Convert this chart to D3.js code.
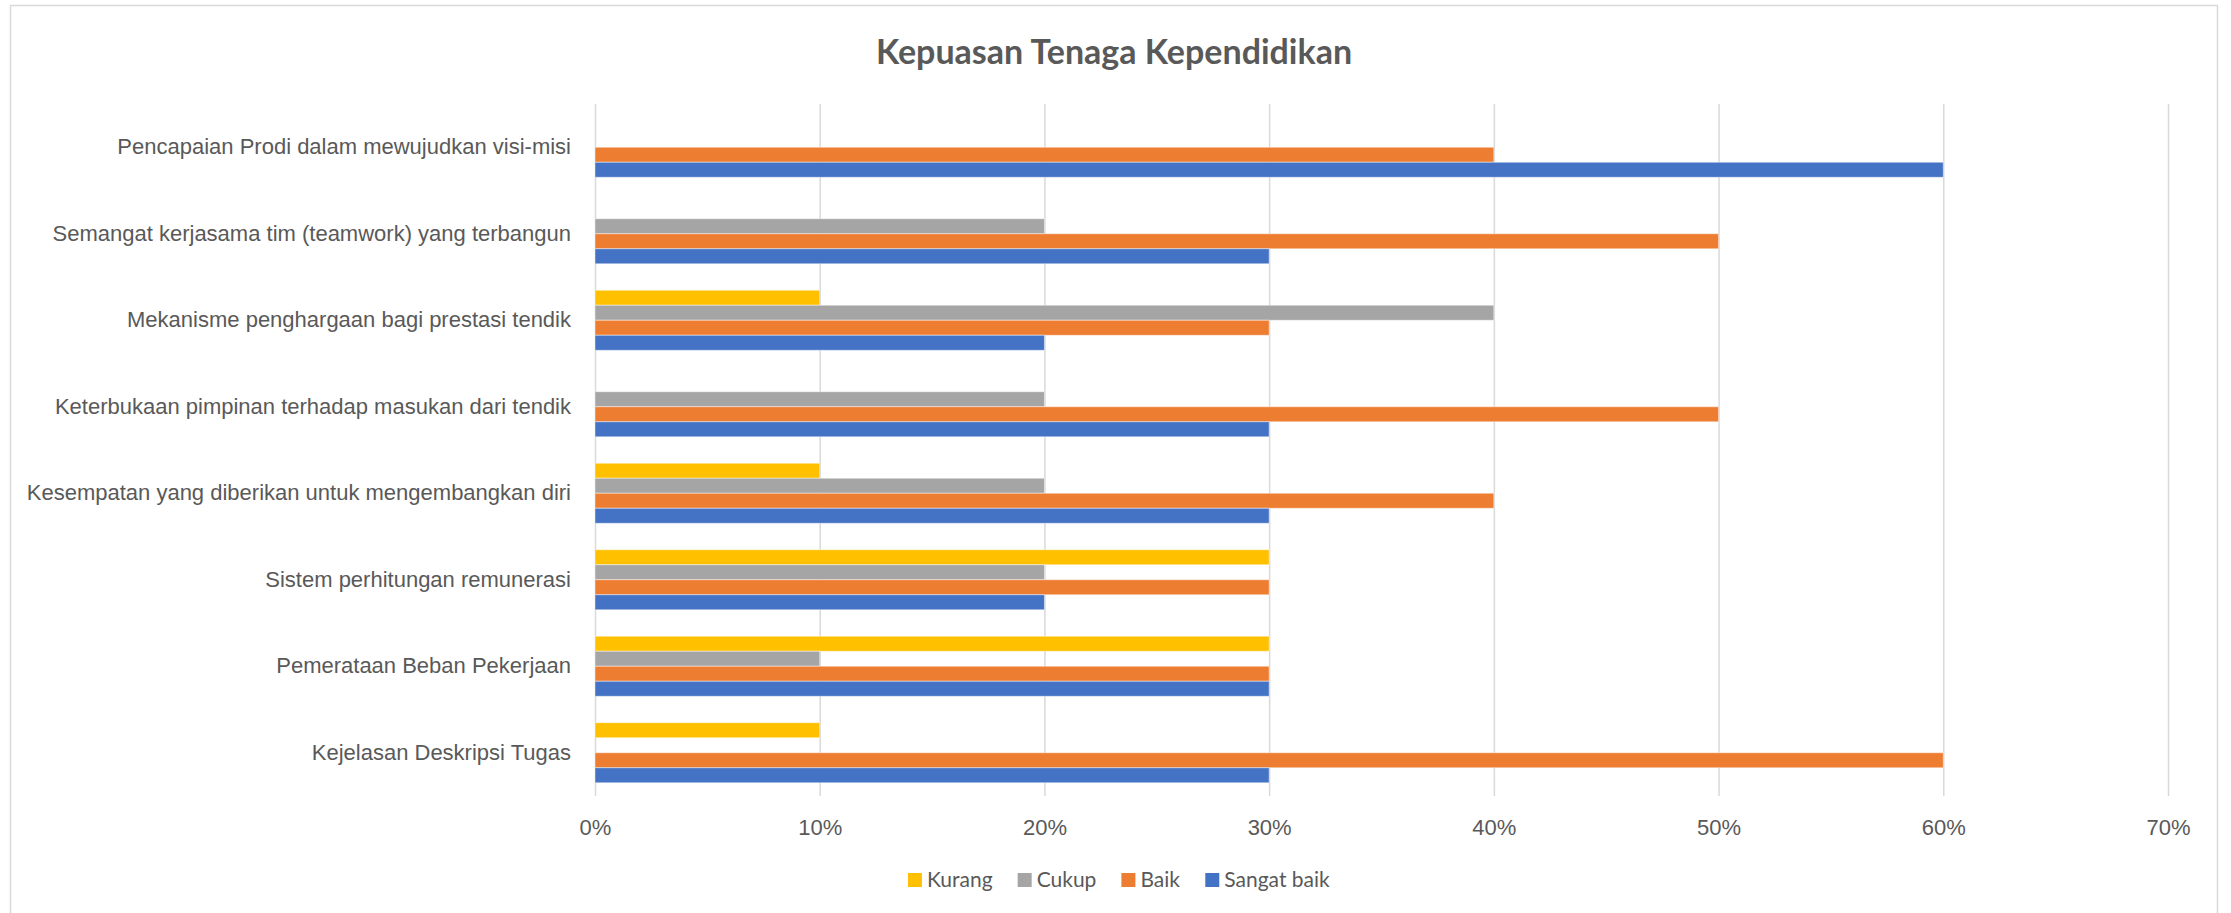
<!DOCTYPE html>
<html>
<head>
<meta charset="utf-8">
<script src="https://cdn.jsdelivr.net/npm/d3@7"></script>
<style>
  body { margin: 0; background: #fff; }
  svg { display: block; font-family: Lato, "Open Sans", sans-serif; }
</style>
</head>
<body>
<div id="chart"></div>
<script>
// Categories, top to bottom as drawn
const categories = [
    "Pencapaian Prodi dalam mewujudkan visi-misi",
    "Semangat kerjasama tim (teamwork) yang terbangun",
    "Mekanisme penghargaan bagi prestasi tendik",
    "Keterbukaan pimpinan terhadap masukan dari tendik",
    "Kesempatan yang diberikan untuk mengembangkan diri",
    "Sistem perhitungan remunerasi",
    "Pemerataan Beban Pekerjaan",
    "Kejelasan Deskripsi Tugas"
];

// Series names (top to bottom inside each group)
const seriesNames = ["Kurang", "Cukup", "Baik", "Sangat baik"];
const seriesColors = ["#FFC000", "#A5A5A5", "#ED7D31", "#4472C4"];

// Values per series, same order as categories
const kurang     = [0,    0,    0.10, 0,    0.10, 0.30, 0.30, 0.10];
const cukup      = [0,    0.20, 0.40, 0.20, 0.20, 0.20, 0.10, 0];
const baik       = [0.40, 0.50, 0.30, 0.50, 0.40, 0.30, 0.30, 0.60];
const sangatBaik = [0.60, 0.30, 0.20, 0.30, 0.30, 0.20, 0.30, 0.30];

// Tick values for the x axis
const xTicks = [0, 0.1, 0.2, 0.3, 0.4, 0.5, 0.6, 0.7];

const chartTitle = "Kepuasan Tenaga Kependidikan";

// Set up dimensions
const width = 2231;
const height = 913;
const plot = { left: 595, right: 2168, top: 104, bottom: 796 };

const seriesValues = [kurang, cukup, baik, sangatBaik];

const svg = d3.select("#chart")
    .append("svg")
    .attr("width", width)
    .attr("height", height);

// Chart frame
svg.append("rect")
    .attr("x", 10.5)
    .attr("y", 5.5)
    .attr("width", 2207)
    .attr("height", 940)
    .attr("fill", "#fff")
    .attr("stroke", "#D9D9D9")
    .attr("stroke-width", 1.5);

// Scales
const xScale = d3.scaleLinear()
    .domain([0, 0.7])
    .range([plot.left, plot.right]);

const yScale = d3.scaleBand()
    .domain(categories)
    .range([plot.top, plot.bottom])
    .paddingInner(0.306)
    .paddingOuter(0.153);

const ySub = d3.scaleBand()
    .domain(seriesNames)
    .range([0, yScale.bandwidth()]);

// X axis with gridlines
const xAxis = svg.append("g")
    .attr("class", "x-axis")
    .attr("transform", "translate(0," + plot.bottom + ")")
    .call(d3.axisBottom(xScale)
        .tickValues(xTicks)
        .tickSize(-(plot.bottom - plot.top))
        .tickPadding(23)
        .tickFormat(d3.format(".0%")));

xAxis.select(".domain").remove();
xAxis.selectAll(".tick line")
    .attr("stroke", "#D9D9D9")
    .attr("stroke-width", 1.5);
xAxis.selectAll(".tick text")
    .attr("fill", "#595959")
    .style("font-size", "22px");

// Y axis labels
const yAxis = svg.append("g")
    .attr("class", "y-axis")
    .attr("transform", "translate(" + plot.left + ",0)")
    .call(d3.axisLeft(yScale).tickSize(0).tickPadding(24));

yAxis.select(".domain").remove();
yAxis.selectAll(".tick text")
    .attr("fill", "#595959")
    .style("font-size", "22px");

// Bars
seriesNames.forEach(function(name, si) {
    svg.append("g")
        .selectAll("rect")
        .data(categories.map((c, i) => ({ cat: c, value: seriesValues[si][i] })))
        .enter().append("rect")
        .filter(d => d.value > 0)
        .attr("x", xScale(0))
        .attr("y", d => yScale(d.cat) + ySub(name))
        .attr("width", d => xScale(d.value) - xScale(0))
        .attr("height", ySub.bandwidth())
        .attr("fill", seriesColors[si])
        .attr("stroke", "rgba(255,255,255,0.45)")
        .attr("stroke-width", 1);
});

// Title
svg.append("text")
    .attr("x", 1114)
    .attr("y", 64)
    .attr("text-anchor", "middle")
    .attr("fill", "#595959")
    .style("font-size", "34px")
    .style("font-weight", "bold")
    .text(chartTitle);

// Legend, centred under the plot
const legend = svg.append("g").attr("class", "legend");
const items = legend.selectAll("g")
    .data(seriesNames)
    .enter().append("g");

items.append("rect")
    .attr("width", 14)
    .attr("height", 14)
    .attr("y", -7)
    .attr("fill", (d, i) => seriesColors[i]);

items.append("text")
    .attr("x", 19)
    .attr("dy", "0.35em")
    .attr("fill", "#595959")
    .style("font-size", "21px")
    .text(d => d);

let offset = 0;
items.each(function() {
    const w = this.getBBox().width;
    d3.select(this).attr("transform", "translate(" + offset + ",880)");
    offset += w + 25;
});
const legendWidth = offset - 25;
legend.attr("transform", "translate(" + (1119 - legendWidth / 2) + ",0)");
</script>
</body>
</html>
